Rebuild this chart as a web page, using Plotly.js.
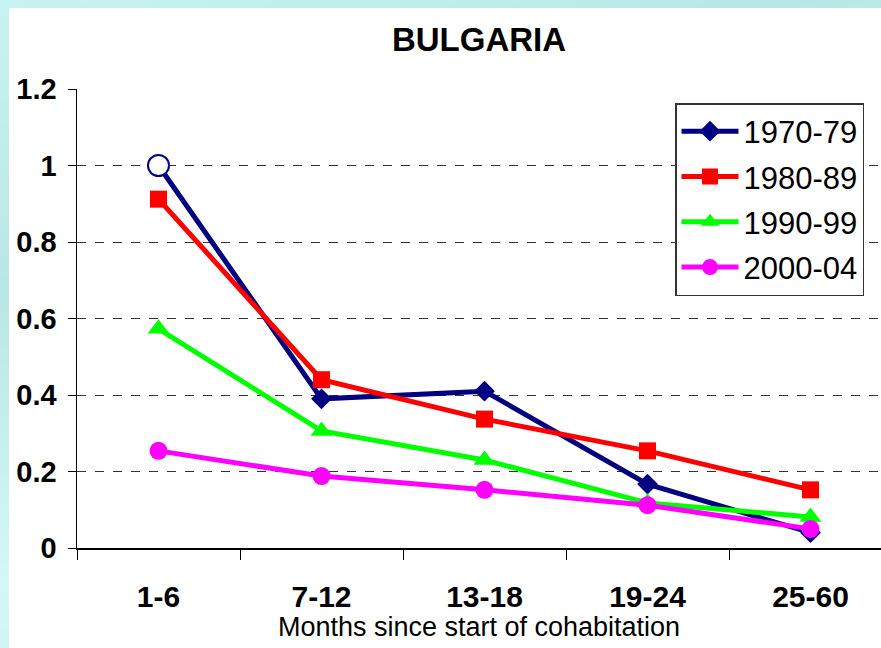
<!DOCTYPE html>
<html>
<head>
<meta charset="utf-8">
<script src="https://cdn.plot.ly/plotly-3.0.1.min.js"></script>
<style>
  html, body { margin: 0; padding: 0; }
  #wrap { position: relative; width: 881px; height: 648px; overflow: hidden;
    background: linear-gradient(160deg, #c9f3f3 0%, #b9e6e6 30%, #d4f7f7 60%, #bfe9ea 100%); }
  #white { position: absolute; left: 9px; top: 8px; width: 872px; height: 640px; background: #ffffff; }
  #chart { position: absolute; left: 0; top: 0; width: 881px; height: 648px; }
</style>
</head>
<body>
<div id="wrap">
  <div id="white"></div>
  <div id="chart"></div>
</div>
<script>
const categories = ["1-6", "7-12", "13-18", "19-24", "25-60"];
const seriesNames = ["1970-79", "1980-89", "1990-99", "2000-04"];
const s1970 = [1.00, 0.39, 0.41, 0.167, 0.04];
const s1980 = [0.912, 0.44, 0.337, 0.254, 0.152];
const s1990 = [0.573, 0.306, 0.23, 0.118, 0.081];
const s2000 = [0.254, 0.188, 0.152, 0.112, 0.05];
const yTicks = [0, 0.2, 0.4, 0.6, 0.8, 1, 1.2];

const colors = ["#000080", "#FF0000", "#00FF00", "#FF00FF"];
const symbols = ["diamond", "square", "triangle-up", "circle"];
const sizes = [16, 17, 19, 18];
const allSeries = [s1970, s1980, s1990, s2000];
const FONT = "Liberation Sans, Arial, sans-serif";

const traces = allSeries.map((vals, i) => ({
  type: "scatter",
  mode: "lines+markers",
  name: seriesNames[i],
  x: categories,
  y: vals,
  legendgroup: "g" + i,
  line: { color: colors[i], width: 5 },
  marker: { symbol: symbols[i], size: sizes[i], color: colors[i] }
}));
// open circle on first point of 1970-79 series
traces.push({
  type: "scatter",
  mode: "markers",
  x: [categories[0]],
  y: [s1970[0]],
  showlegend: false,
  hoverinfo: "skip",
  marker: { symbol: "circle", size: 21, color: "#ffffff", line: { color: "#000080", width: 2 } }
});

const layout = {
  width: 881, height: 648,
  paper_bgcolor: "rgba(0,0,0,0)",
  plot_bgcolor: "#ffffff",
  margin: { l: 77, r: 0, t: 89, b: 100 },
  showlegend: true,
  title: {
    text: "<b>BULGARIA</b>",
    font: { family: FONT, size: 33, color: "#000" },
    x: 0.5, xref: "paper", y: 1 - 39 / 648, yref: "container", yanchor: "middle"
  },
  xaxis: {
    type: "category",
    range: [-0.5, -0.5 + 804 / 163],
    tickson: "boundaries",
    ticks: "outside", ticklen: 10, tickcolor: "#000", tickwidth: 1,
    showline: true, linecolor: "#000", linewidth: 1.5,
    showgrid: false, zeroline: false,
    tickfont: { family: FONT, size: 30, color: "#000", weight: "bold" },
    ticklabelstandoff: 21,
    title: {
      text: "Months since start of cohabitation",
      font: { family: FONT, size: 27, color: "#000" },
      standoff: 4
    },
    automargin: false,
    fixedrange: true
  },
  yaxis: {
    range: [0, 1.2],
    tickvals: yTicks,
    ticktext: yTicks.map(v => String(v)),
    ticks: "outside", ticklen: 8, tickcolor: "#000", tickwidth: 1,
    showline: true, linecolor: "#000", linewidth: 1.5,
    showgrid: true, gridcolor: "#333", griddash: "dash", gridwidth: 1,
    zeroline: false,
    tickfont: { family: FONT, size: 29, color: "#000", weight: "bold" },
    ticklabelstandoff: 5,
    automargin: false,
    fixedrange: true
  },
  legend: {
    x: (675 - 77) / 804, xanchor: "left",
    y: 1 - (103 - 89) / 459, yanchor: "top",
    bgcolor: "#ffffff",
    bordercolor: "#333", borderwidth: 1.5,
    font: { family: FONT, size: 31, color: "#000" },
    tracegroupgap: 2,
    itemwidth: 57
  }
};

Plotly.newPlot("chart", traces, layout, { displayModeBar: false, staticPlot: true });
</script>
</body>
</html>
